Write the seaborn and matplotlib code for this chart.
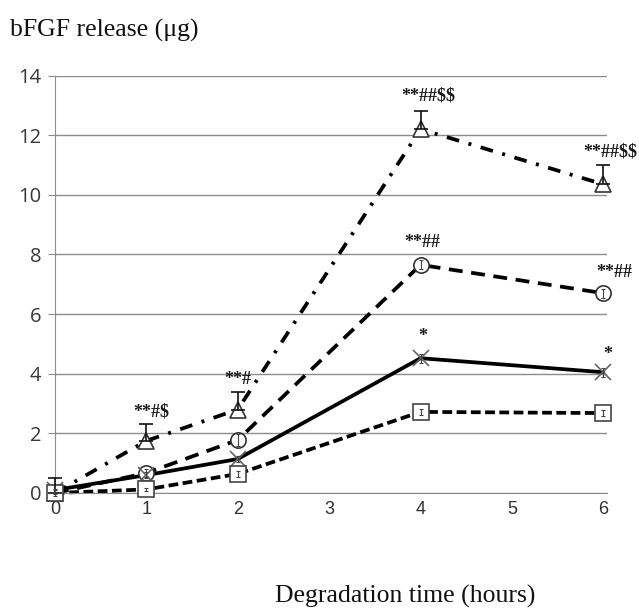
import numpy as np
import pandas as pd
import seaborn as sns
import matplotlib
matplotlib.use("Agg")
import matplotlib.pyplot as plt
from matplotlib import font_manager

hours = [0, 1, 2, 4, 6]
tri_vals = [0.0, 1.75, 2.8, 12.2, 10.35]
tri_err = [0.5, 0.55, 0.6, 0.6, 0.65]
cir_vals = [0.0, 0.67, 1.78, 7.65, 6.7]
cir_err = [0.1, 0.15, 0.2, 0.15, 0.15]
x_vals = [0.1, 0.6, 1.14, 4.52, 4.05]
x_err = [0.05, 0.1, 0.1, 0.15, 0.15]
sq_vals = [0.0, 0.12, 0.64, 2.72, 2.68]
sq_err = [0.05, 0.05, 0.1, 0.1, 0.1]
series_names = ["A", "B", "C", "D"]

annotations = [
    (1.05, 2.7, "**#$"),
    (2.0, 3.8, "**#"),
    (4.08, 13.3, "**##$$"),
    (6.08, 11.45, "**##$$"),
    (4.02, 8.4, "**##"),
    (6.12, 7.4, "**##"),
    (4.02, 5.25, "*"),
    (6.05, 4.65, "*"),
]

df = pd.DataFrame({
    "hours": hours * 4,
    "release": tri_vals + cir_vals + x_vals + sq_vals,
    "series": sum([[s] * len(hours) for s in series_names], []),
})

sns.set_style("white")
fig = plt.figure(figsize=(6.39, 6.13), dpi=100)
ax = fig.add_axes([55 / 639, 1 - 493 / 613, (607 - 55) / 639, (493 - 75.5) / 613])

dashes = {"A": (3.4, 2.6, 0.8, 2.6), "B": (3.7, 2.3), "C": "", "D": (2.6, 1.2)}
sns.lineplot(data=df, x="hours", y="release", hue="series", style="series",
             palette={s: "black" for s in series_names}, dashes=dashes,
             markers=False, linewidth=2.7, legend=False, ax=ax)
for ln in ax.lines:
    ln.set_clip_on(False)

mk = dict(ms=11, mfc="white", mew=1.2, ls="none", clip_on=False, zorder=5)
ax.plot(hours, tri_vals, marker="^", mec="#333333", **mk)
ax.plot(hours, cir_vals, marker="o", mec="#333333", **mk)
ax.plot(hours, x_vals, marker="x", mec="#666666", ms=11, mew=1.2, ls="none", clip_on=False, zorder=5)
ax.plot(hours, sq_vals, marker="s", mec="#444444", ms=12, mfc="white", mew=1.2, ls="none", clip_on=False, zorder=5)

eb = dict(fmt="none", ecolor="#111111", elinewidth=1.2, capthick=1.2, clip_on=False, zorder=6)
ax.errorbar(hours, tri_vals, yerr=[[0] * 5, tri_err], capsize=5, **eb)
eb2 = dict(fmt="none", ecolor="#444444", elinewidth=0.8, capthick=0.8, clip_on=False, zorder=6)
ax.errorbar(hours, cir_vals, yerr=cir_err, capsize=1.5, **eb2)
ax.errorbar(hours, x_vals, yerr=x_err, capsize=1.5, **eb2)
ax.errorbar(hours, sq_vals, yerr=sq_err, capsize=1.5, **eb2)

for xa, ya, t in annotations:
    ax.text(xa, ya, t, ha="center", va="center", fontsize=13, fontweight="bold",
            family="Liberation Serif", color="#1a1a1a", clip_on=False,
            parse_math=False)

ax.set_xlim(0, 6.04)
ax.set_ylim(0, 14)
ax.set_yticks(range(0, 15, 2))
ax.set_xticks(range(0, 7))
ax.grid(axis="y", color="#8c8c8c", lw=1)
ax.grid(axis="x", visible=False)
for s in ["top", "right"]:
    ax.spines[s].set_visible(False)
ax.spines["left"].set_color("#8c8c8c")
ax.spines["bottom"].set_color("#8c8c8c")
ax.tick_params(axis="y", left=True, length=5, color="#8c8c8c", labelsize=14.5,
               labelcolor="#383838", pad=5)
ax.tick_params(axis="x", bottom=False, labelsize=13, labelcolor="#303030", pad=2)

names = {f.name for f in font_manager.fontManager.ttflist}
xfont = "Liberation Sans Narrow" if "Liberation Sans Narrow" in names else "Liberation Sans"
for lab in ax.get_yticklabels():
    lab.set_family("Open Sans")
for lab in ax.get_xticklabels():
    lab.set_family(xfont)
ax.set_xlabel("")
ax.set_ylabel("")

fig.text(10 / 639, 1 - 30 / 613, "bFGF release (\u03bcg)", family="Liberation Serif",
         fontsize=18.5, ha="left", va="center", color="#111111")
fig.text(405 / 639, 1 - 596 / 613, "Degradation time (hours)", family="Liberation Serif",
         fontsize=18.5, ha="center", va="center", color="#111111")

fig.savefig("out.png", dpi=100)
